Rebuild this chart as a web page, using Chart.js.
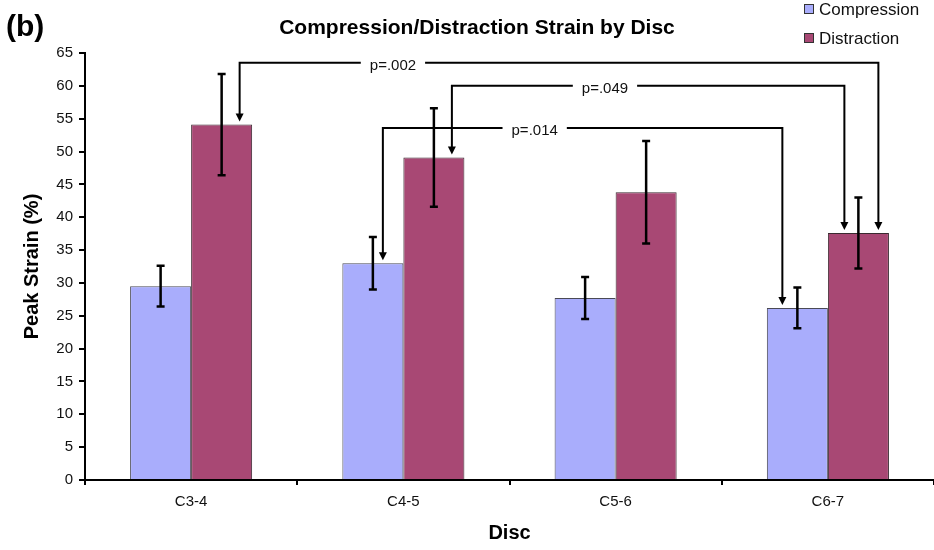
<!DOCTYPE html>
<html>
<head>
<meta charset="utf-8">
<title>Compression/Distraction Strain by Disc</title>
<script src="https://cdn.jsdelivr.net/npm/chart.js@4.4.0/dist/chart.umd.min.js"></script>
<style>
  html, body { margin: 0; padding: 0; background: #fff; }
  #wrap { width: 934px; height: 550px; position: relative; }
</style>
</head>
<body>
<div id="wrap"><canvas id="strainChart"></canvas></div>
<script>
const discs = ["C3-4", "C4-5", "C5-6", "C6-7"];
const compression = [29.5, 33.0, 27.7, 26.2];
const compressionErr = [3.1, 4.0, 3.2, 3.1];
const distraction = [54.1, 49.1, 43.8, 37.6];
const distractionErr = [7.7, 7.5, 7.8, 5.4];

// significance comparisons, each end is [dataset index, disc index]
const pLabels = ["p=.002", "p=.049", "p=.014"];
const pFrom = [[1, 0], [1, 1], [0, 1]];
const pTo = [[1, 3], [1, 3], [0, 3]];

const FONT = "'Liberation Sans', Arial, Helvetica, sans-serif";

// how the brackets sit: line height (axis units), arrow offsets from bar centre (px), label position along the line
const bracketStyle = {
  level: [63.5, 60.0, 53.6],
  fromOffset: [18, 18, 10],
  toOffset: [20, -14, -15],
  labelAt: [0.24, 0.39, 0.38],
};

const errorBars = {
  id: "errorBars",
  afterDatasetsDraw(chart) {
    const { ctx, scales: { y } } = chart;
    ctx.save();
    ctx.strokeStyle = "#000";
    ctx.lineWidth = 2.5;
    chart.data.datasets.forEach((ds, di) => {
      chart.getDatasetMeta(di).data.forEach((bar, i) => {
        const top = y.getPixelForValue(ds.data[i] + ds.errors[i]);
        const bot = y.getPixelForValue(ds.data[i] - ds.errors[i]);
        ctx.beginPath();
        ctx.moveTo(bar.x, top); ctx.lineTo(bar.x, bot);
        ctx.moveTo(bar.x - 4, top); ctx.lineTo(bar.x + 4, top);
        ctx.moveTo(bar.x - 4, bot); ctx.lineTo(bar.x + 4, bot);
        ctx.stroke();
      });
    });
    ctx.restore();
  },
};

const brackets = {
  id: "brackets",
  afterDatasetsDraw(chart) {
    const { ctx, scales: { y } } = chart;
    const arrow = (x, tip) => {
      ctx.beginPath();
      ctx.moveTo(x, tip);
      ctx.lineTo(x - 4, tip - 8);
      ctx.lineTo(x + 4, tip - 8);
      ctx.closePath();
      ctx.fill();
    };
    ctx.save();
    ctx.strokeStyle = "#000";
    ctx.fillStyle = "#000";
    ctx.lineWidth = 2;
    ctx.font = "15px " + FONT;
    pLabels.forEach((label, i) => {
      const a = chart.getDatasetMeta(pFrom[i][0]).data[pFrom[i][1]];
      const b = chart.getDatasetMeta(pTo[i][0]).data[pTo[i][1]];
      const x1 = a.x + bracketStyle.fromOffset[i];
      const x2 = b.x + bracketStyle.toOffset[i];
      const yLine = y.getPixelForValue(bracketStyle.level[i]);
      const tip1 = a.y - 3, tip2 = b.y - 3;
      const tx = x1 + (x2 - x1) * bracketStyle.labelAt[i];
      const gap = ctx.measureText(label).width / 2 + 9;
      ctx.beginPath();
      ctx.moveTo(x1, tip1 - 7); ctx.lineTo(x1, yLine); ctx.lineTo(tx - gap, yLine);
      ctx.moveTo(tx + gap, yLine); ctx.lineTo(x2, yLine); ctx.lineTo(x2, tip2 - 7);
      ctx.stroke();
      arrow(x1, tip1);
      arrow(x2, tip2);
      ctx.fillStyle = "#111";
      ctx.textAlign = "center";
      ctx.textBaseline = "middle";
      ctx.fillText(label, tx, yLine + 3);
      ctx.fillStyle = "#000";
    });
    ctx.restore();
  },
};

// title, panel letter and legend sit above the plot area
const headers = {
  id: "headers",
  afterDraw(chart) {
    const { ctx } = chart;
    ctx.save();
    ctx.fillStyle = "#000";
    ctx.textBaseline = "middle";
    ctx.font = "bold 30px " + FONT;
    ctx.textAlign = "left";
    ctx.fillText("(b)", 6, 28);
    ctx.font = "bold 21px " + FONT;
    ctx.textAlign = "center";
    ctx.fillText("Compression/Distraction Strain by Disc", 477, 28);
    ctx.font = "17px " + FONT;
    ctx.textAlign = "left";
    chart.data.datasets.forEach((ds, i) => {
      const cy = 9 + i * 29;
      ctx.fillStyle = ds.backgroundColor;
      ctx.fillRect(804, cy - 5, 10, 10);
      ctx.strokeStyle = "#333";
      ctx.lineWidth = 1;
      ctx.strokeRect(804.5, cy - 4.5, 9, 9);
      ctx.fillStyle = "#111";
      ctx.fillText(ds.label, 819, cy + 1);
    });
    ctx.restore();
  },
};

new Chart(document.getElementById("strainChart"), {
  type: "bar",
  data: {
    labels: discs,
    datasets: [
      {
        label: "Compression",
        data: compression,
        errors: compressionErr,
        backgroundColor: "#a9adfc",
        borderColor: "#4a4a55",
        borderWidth: 1,
      },
      {
        label: "Distraction",
        data: distraction,
        errors: distractionErr,
        backgroundColor: "#a84874",
        borderColor: "#3a2a30",
        borderWidth: 1,
      },
    ],
  },
  options: {
    responsive: true,
    maintainAspectRatio: false,
    animation: false,
    layout: { padding: { top: 53, right: -3, left: 0, bottom: 0 } },
    datasets: { bar: { barPercentage: 1, categoryPercentage: 0.575 } },
    plugins: {
      legend: { display: false },
      title: { display: false },
      tooltip: { enabled: false },
    },
    scales: {
      x: {
        afterFit: (scale) => { scale.height = 70; },
        grid: { drawOnChartArea: false, color: "#000", lineWidth: 2, tickLength: 5 },
        border: { color: "#000", width: 2 },
        ticks: { color: "#111", padding: 8, font: { family: FONT, size: 15 } },
        title: {
          display: true,
          text: "Disc",
          color: "#000",
          font: { family: FONT, size: 20, weight: "bold" },
          padding: { top: 0, bottom: 5 },
        },
      },
      y: {
        min: 0,
        max: 65,
        afterFit: (scale) => { scale.width = 85; },
        grid: { drawOnChartArea: false, color: "#000", lineWidth: 2, tickLength: 6 },
        border: { color: "#000", width: 2 },
        ticks: { stepSize: 5, color: "#111", padding: 6, font: { family: FONT, size: 15 } },
        title: {
          display: true,
          text: "Peak Strain (%)",
          color: "#000",
          font: { family: FONT, size: 20, weight: "bold" },
          padding: { top: 20, bottom: 0 },
        },
      },
    },
  },
  plugins: [errorBars, brackets, headers],
});
</script>
</body>
</html>
